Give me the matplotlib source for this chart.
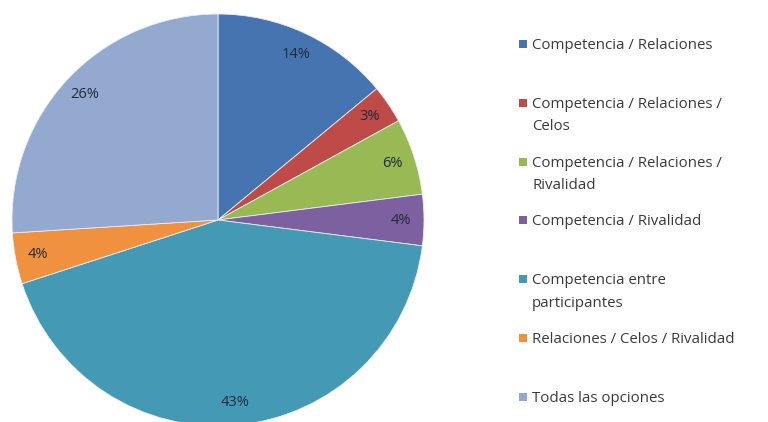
import matplotlib.pyplot as plt
import matplotlib.patches as patches

labels = ["Competencia / Relaciones",
          "Competencia / Relaciones /\nCelos",
          "Competencia / Relaciones /\nRivalidad",
          "Competencia / Rivalidad",
          "Competencia entre\nparticipantes",
          "Relaciones / Celos / Rivalidad",
          "Todas las opciones"]
values = [14, 3, 6, 4, 43, 4, 26]
colors = ["#4674B0", "#BE4B48", "#98B954", "#7D60A0", "#4499B4", "#F0913F", "#93A9CF"]

plt.rcParams['font.family'] = ['Open Sans', 'DejaVu Sans']

fig = plt.figure(figsize=(7.68, 4.22), dpi=100)
W, H = 768, 422
cx, cy, r = 218, 220, 206
ax = fig.add_axes([(cx - r) / W, (H - cy - r) / H, 2 * r / W, 2 * r / H])

wedges, texts, autotexts = ax.pie(values, colors=colors, startangle=90, counterclock=False,
                                  autopct='%d%%', pctdistance=0.89, radius=1,
                                  wedgeprops=dict(edgecolor='#e8eef5', linewidth=0.6),
                                  textprops=dict(fontsize=10.5, color='#1F2A3A'))
ax.set_xlim(-1, 1)
ax.set_ylim(-1, 1)

# legend drawn by hand: square swatch + text, fixed row pitch
y0 = 44
step = 58.8
for i, (lab, col) in enumerate(zip(labels, colors)):
    y = y0 + i * step
    fig.patches.append(patches.Rectangle((519 / W, (H - y - 4) / H), 8 / W, 8 / H,
                                         transform=fig.transFigure, facecolor=col,
                                         edgecolor='none'))
    fig.text(532 / W, (H - y + 6) / H, lab, fontsize=10.8, color='#3a3a3a',
             va='top', ha='left', linespacing=1.7)

fig.savefig("out.png", dpi=100, facecolor='white')
